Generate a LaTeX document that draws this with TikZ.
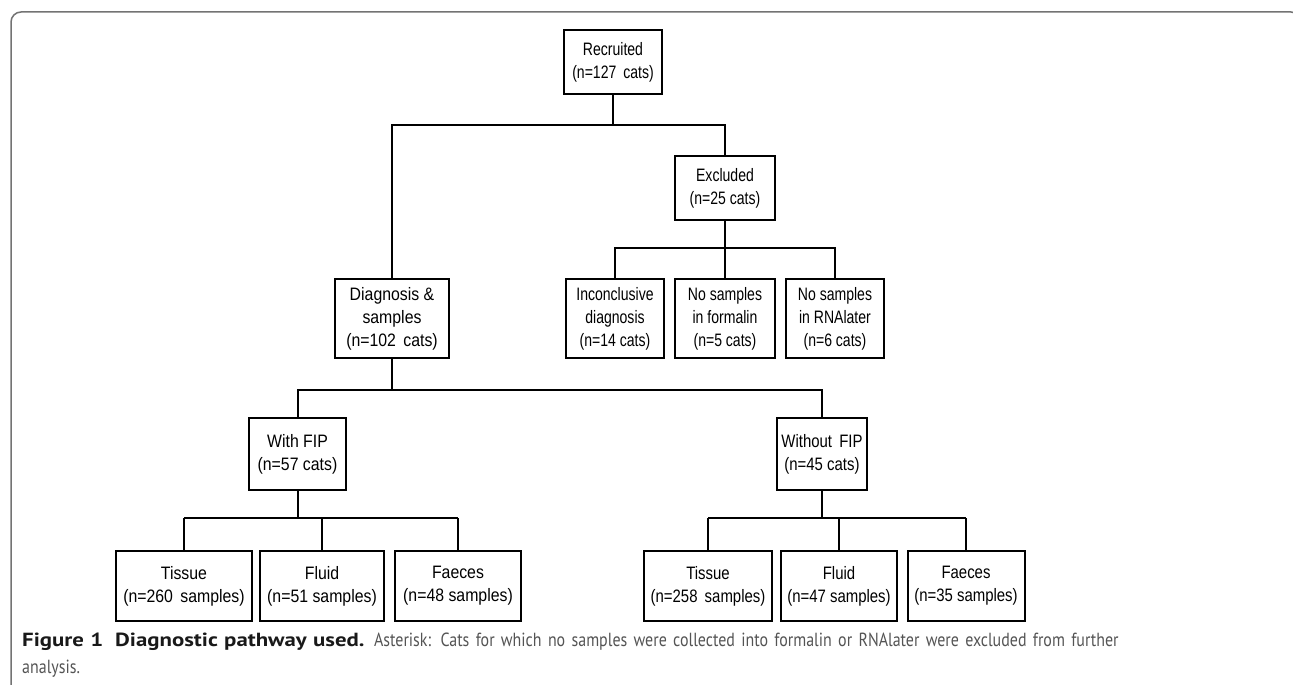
\documentclass[tikz,border=0pt]{standalone}
\usepackage{fontspec}
\usepackage{xcolor}
\newfontfamily\boxnarrow{Liberation Sans}[FakeStretch=0.78]
\newfontfamily\boxmid{Liberation Sans}[FakeStretch=0.83]
\newfontfamily\boxwide{Liberation Sans}[FakeStretch=0.88]
\newfontfamily\capfont{PT Sans}[FakeStretch=0.84, WordSpace=0.7]
\newfontfamily\capbold{PT Sans Bold}[FakeStretch=1.2]
\definecolor{framegray}{gray}{0.45}
\definecolor{captext}{gray}{0.33}
\definecolor{capdark}{gray}{0.1}

\begin{document}
\begin{tikzpicture}[x=1pt,y=1pt,
  box/.style={draw, line width=2pt, inner sep=1pt, align=center,
    font=#1\fontsize{18}{23}\selectfont},
  box/.default=\boxnarrow,
  link/.style={line width=2pt}]
\useasboundingbox (0,0) rectangle (1293,-685);

% frame of the figure
\draw[framegray, line width=1.5pt, rounded corners=10] (11,-700) -- (11,-12) -- (1301,-12) -- (1301,-700);

% top levels
\node[box, minimum width=98, minimum height=64] (rec) at (613,-62) {Recruited\\(n=127\hspace{3pt} cats)};
\node[box, minimum width=100, minimum height=64] (exc) at (725,-188) {Excluded\\(n=25 cats)};

\node[box=\boxwide, minimum width=114, minimum height=79] (diag) at (392,-318.5) {Diagnosis \&\\samples\\(n=102\hspace{3pt} cats)};
\node[box, minimum width=98, minimum height=79] (inc) at (615,-318.5) {Inconclusive\\diagnosis\\(n=14 cats)};
\node[box, minimum width=100, minimum height=79] (form) at (725,-318.5) {No samples\\in formalin\\(n=5 cats)};
\node[box, minimum width=98, minimum height=79] (rna) at (835,-318.5) {No samples\\in RNAlater\\(n=6 cats)};

\node[box=\boxwide, minimum width=97, minimum height=72] (with) at (297.5,-454) {With FIP\\(n=57 cats)};
\node[box=\boxmid, minimum width=90, minimum height=72] (without) at (822,-454) {Without\hspace{3pt} FIP\\(n=45 cats)};

% samples
\node[box=\boxwide, minimum width=136, minimum height=70] (tisL) at (184,-586) {Tissue\\(n=260\hspace{3pt} samples)};
\node[box=\boxwide, minimum width=124, minimum height=70] (fluL) at (322,-586) {Fluid\\(n=51 samples)};
\node[box=\boxwide, minimum width=126, minimum height=70] (faeL) at (458,-586) {Faeces\\(n=48 samples)};
\node[box=\boxmid, minimum width=128, minimum height=70] (tisR) at (708,-586) {Tissue\\(n=258\hspace{3pt} samples)};
\node[box=\boxmid, minimum width=116, minimum height=70] (fluR) at (839,-586) {Fluid\\(n=47 samples)};
\node[box=\boxmid, minimum width=117, minimum height=70] (faeR) at (966,-586) {Faeces\\(n=35 samples)};

% junctions
\coordinate (j1) at (613,-125);
\coordinate (j2) at (725,-248);
\coordinate (j3) at (392,-390);
\coordinate (jL) at (297.5,-518);
\coordinate (jR) at (822,-518);

\draw[link] (rec) -- (j1);
\draw[link] (diag.north) |- (j1) -| (exc.north);

\draw[link] (exc) -- (j2);
\draw[link] (inc.north) |- (j2) -| (rna.north);
\draw[link] (form) -- (j2);

\draw[link] (diag) -- (j3);
\draw[link] (with.north) |- (j3) -| (without.north);

\draw[link] (with) -- (jL);
\draw[link] (tisL.north |- jL) -- (faeL.north |- jL);
\foreach \n in {tisL,fluL,faeL}{
 \draw[link] (\n.north) -- (\n.north |- jL);
}

\draw[link] (without) -- (jR);
\draw[link] (tisR.north |- jR) -- (faeR.north |- jR);
\foreach \n in {tisR,fluR,faeR}{
 \draw[link] (\n.north) -- (\n.north |- jR);
}

% caption
\node[anchor=north west, inner sep=0, text width=1265, align=left, text=captext,
  font=\capfont\fontsize{19}{27}\selectfont] (cap) at (22,-633)
  {\textcolor{capdark}{\capbold Figure 1\hspace{12pt}Diagnostic pathway used.} Asterisk: Cats for which no samples were collected into formalin or RNAlater were excluded from further\\analysis.};

\end{tikzpicture}
\end{document}
